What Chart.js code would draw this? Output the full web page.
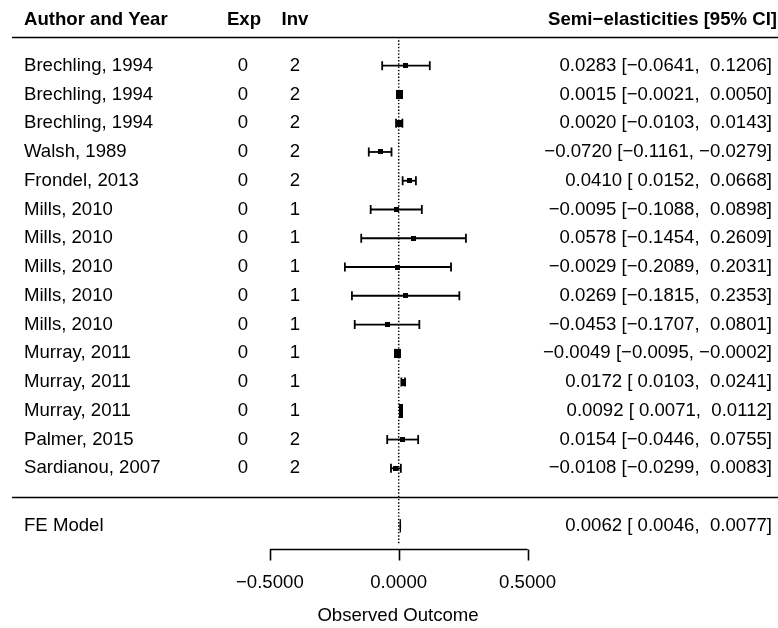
<!DOCTYPE html>
<html>
<head>
<meta charset="utf-8">
<script src="https://cdn.jsdelivr.net/npm/chart.js@4/dist/chart.umd.min.js"></script>
<style>
  html, body { margin: 0; padding: 0; background: #fff; }
  #forest { display: block; }
</style>
</head>
<body>
<canvas id="forest" width="778" height="628"></canvas>
<script>
// study data, top row first
var studies = ['Brechling, 1994', 'Brechling, 1994', 'Brechling, 1994', 'Walsh, 1989', 'Frondel, 2013',
    'Mills, 2010', 'Mills, 2010', 'Mills, 2010', 'Mills, 2010', 'Mills, 2010',
    'Murray, 2011', 'Murray, 2011', 'Murray, 2011', 'Palmer, 2015', 'Sardianou, 2007'];
var expCol = [0, 0, 0, 0, 0, 0, 0, 0, 0, 0, 0, 0, 0, 0, 0];
var invCol = [2, 2, 2, 2, 2, 1, 1, 1, 1, 1, 1, 1, 1, 2, 2];
var estimate = [0.0283, 0.0015, 0.0020, -0.0720, 0.0410, -0.0095, 0.0578, -0.0029, 0.0269, -0.0453,
    -0.0049, 0.0172, 0.0092, 0.0154, -0.0108];
var lower = [-0.0641, -0.0021, -0.0103, -0.1161, 0.0152, -0.1088, -0.1454, -0.2089, -0.1815, -0.1707,
    -0.0095, 0.0103, 0.0071, -0.0446, -0.0299];
var upper = [0.1206, 0.0050, 0.0143, -0.0279, 0.0668, 0.0898, 0.2609, 0.2031, 0.2353, 0.0801,
    -0.0002, 0.0241, 0.0112, 0.0755, 0.0083];

var feModel = { label: 'FE Model', est: 0.0062, lo: 0.0046, hi: 0.0077 };
var xTicks = [-0.5, 0, 0.5];

// box sizes in px (w, h), roughly by weight
var boxW = [4.5, 7, 5, 4.5, 5, 5, 4.5, 4.5, 4.5, 4.5, 6.5, 5, 3.5, 5, 5];
var boxH = [4.5, 9, 7, 5, 5, 5, 4.5, 4.5, 4.5, 4.5, 9, 7, 14, 5, 5];

var FONT = '"Liberation Sans", Arial, sans-serif';
var FS = 18.6;

var nRow = studies.length;
var rowOf = function(i) { return nRow - i; };   // 15 .. 1
var FE_ROW = -1;

var fmt = function(v) {
    var s = v.toFixed(4);
    if (v < 0) return '\u2212' + s.substring(1);
    return s;
};
var pad = function(v) { return v < 0 ? fmt(v) : ' ' + fmt(v); };
var ciText = function(e, l, u) { return fmt(e) + ' [' + pad(l) + ', ' + pad(u) + ']'; };

var makeBox = function(w, h) {
    var c = document.createElement('canvas');
    c.width = Math.round(w);
    c.height = Math.round(h);
    var g = c.getContext('2d');
    g.fillStyle = '#000';
    g.fillRect(0, 0, c.width, c.height);
    return c;
};

var datasets = [];

// reference line at zero
datasets.push({
    type: 'line',
    data: [{ x: 0, y: 16.0 }, { x: 0, y: -1.66 }],
    borderColor: '#000',
    borderWidth: 1.5,
    borderDash: [1.4, 1.9],
    pointRadius: 0
});

// confidence intervals with whisker ends
for (var i = 0; i < nRow; i++) {
    datasets.push({
        type: 'line',
        data: [{ x: lower[i], y: rowOf(i) }, { x: upper[i], y: rowOf(i) }],
        borderColor: '#000',
        borderWidth: 1.8,
        pointStyle: 'line',
        rotation: 90,
        pointRadius: 4.5,
        pointBorderWidth: 1.8,
        pointBorderColor: '#000'
    });
}

// point estimates
var boxes = [];
for (i = 0; i < nRow; i++) boxes.push(makeBox(boxW[i], boxH[i]));
datasets.push({
    type: 'scatter',
    data: estimate.map(function(v, k) { return { x: v, y: rowOf(k) }; }),
    pointStyle: boxes,
    pointRadius: 4
});

var tablePlugin = {
    id: 'forestTable',
    afterDraw: function(chart) {
        var ctx = chart.ctx;
        var xs = chart.scales.x, ys = chart.scales.y;
        ctx.save();
        ctx.fillStyle = '#000';
        ctx.strokeStyle = '#000';
        ctx.textBaseline = 'middle';

        // header
        ctx.font = 'bold ' + FS + 'px ' + FONT;
        ctx.textAlign = 'left';
        ctx.fillText('Author and Year', 24, 20);
        ctx.textAlign = 'center';
        ctx.fillText('Exp', 244, 20);
        ctx.fillText('Inv', 295, 20);
        ctx.textAlign = 'right';
        ctx.fillText('Semi\u2212elasticities [95% CI]', 777, 20);

        ctx.lineWidth = 1.5;
        ctx.beginPath();
        ctx.moveTo(12, 37.5); ctx.lineTo(778, 37.5);
        ctx.moveTo(12, 497.5); ctx.lineTo(778, 497.5);
        ctx.stroke();

        // study rows
        ctx.font = FS + 'px ' + FONT;
        for (var k = 0; k < nRow; k++) {
            var y = ys.getPixelForValue(rowOf(k));
            ctx.textAlign = 'left';
            ctx.fillText(studies[k], 24, y);
            ctx.textAlign = 'center';
            ctx.fillText(String(expCol[k]), 243, y);
            ctx.fillText(String(invCol[k]), 295, y);
            ctx.textAlign = 'right';
            ctx.fillText(ciText(estimate[k], lower[k], upper[k]), 772, y);
        }

        // summary row
        var fy = ys.getPixelForValue(FE_ROW);
        ctx.textAlign = 'left';
        ctx.fillText(feModel.label, 24, fy);
        ctx.textAlign = 'right';
        ctx.fillText(ciText(feModel.est, feModel.lo, feModel.hi), 772, fy);

        var dh = 6.5;
        ctx.beginPath();
        ctx.moveTo(xs.getPixelForValue(feModel.lo), fy);
        ctx.lineTo(xs.getPixelForValue(feModel.est), fy - dh);
        ctx.lineTo(xs.getPixelForValue(feModel.hi), fy);
        ctx.lineTo(xs.getPixelForValue(feModel.est), fy + dh);
        ctx.closePath();
        ctx.fill();
        ctx.lineWidth = 1;
        ctx.stroke();

        // x axis
        var ay = 549.5;
        ctx.lineWidth = 1.6;
        ctx.beginPath();
        ctx.moveTo(xs.getPixelForValue(xTicks[0]), ay);
        ctx.lineTo(xs.getPixelForValue(xTicks[xTicks.length - 1]), ay);
        xTicks.forEach(function(t) {
            var px = Math.round(xs.getPixelForValue(t)) + 0.5;
            ctx.moveTo(px, ay);
            ctx.lineTo(px, ay + 11);
        });
        ctx.stroke();
        ctx.textAlign = 'center';
        xTicks.forEach(function(t) {
            ctx.fillText(fmt(t), xs.getPixelForValue(t), 583);
        });
        ctx.fillText('Observed Outcome', 398, 616);
        ctx.restore();
    }
};

var ctx = document.getElementById('forest');
var chart = new Chart(ctx, {
    type: 'scatter',
    data: { datasets: datasets },
    options: {
        responsive: false,
        animation: false,
        layout: { padding: 0, autoPadding: false },
        plugins: { legend: { display: false }, tooltip: { enabled: false } },
        scales: {
            x: { type: 'linear', display: false, min: -1.5472, max: 1.4719 },
            y: { type: 'linear', display: false, min: -4.553, max: 17.285 }
        }
    },
    plugins: [tablePlugin]
});
</script>
</body>
</html>
